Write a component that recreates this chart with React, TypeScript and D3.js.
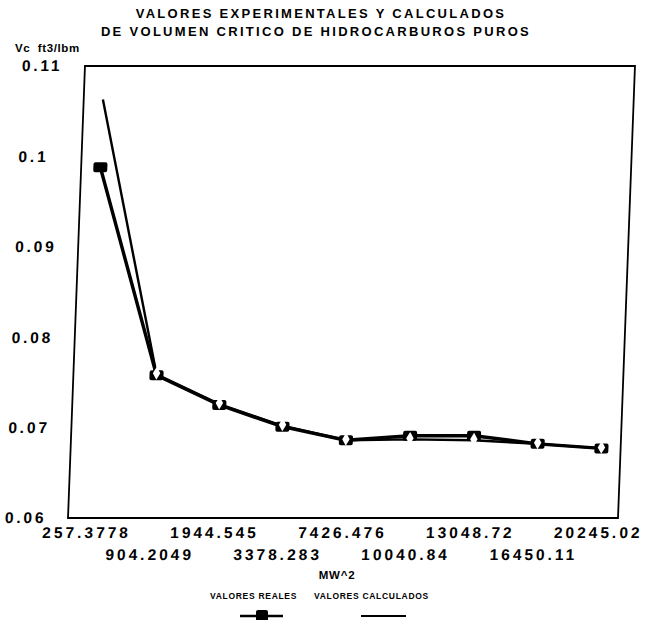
import React from "react";
import * as d3 from "d3";

// MW^2 categories along the x axis
const categories = [
  "257.3778",
  "904.2049",
  "1944.545",
  "3378.283",
  "7426.476",
  "10040.84",
  "13048.72",
  "16450.11",
  "20245.02",
];

// Critical volume, ft3/lbm
const valoresReales = [0.0988, 0.0758, 0.0725, 0.0701, 0.0686, 0.0691, 0.0691, 0.0682, 0.0677];
const valoresCalculados = [0.1063, 0.0759, 0.0726, 0.0702, 0.0686, 0.0687, 0.0686, 0.0682, 0.0677];

const yTicks = [0.06, 0.07, 0.08, 0.09, 0.1, 0.11];

const titleLines = [
  "VALORES EXPERIMENTALES Y CALCULADOS",
  "DE VOLUMEN CRITICO DE HIDROCARBUROS PUROS",
];

const W = 646;
const H = 620;
const plot = { left: 68, right: 618, top: 66, bottom: 518 };
const FONT = "'Liberation Sans', Arial, Helvetica, sans-serif";

export default function App() {
  const x = d3
    .scalePoint<number>()
    .domain(categories.map((_, i) => i))
    .range([plot.left, plot.right])
    .padding(0.3);
  const y = d3.scaleLinear().domain([0.06, 0.11]).range([plot.bottom, plot.top]);

  const line = d3
    .line<number>()
    .x((_, i) => x(i) as number)
    .y((v) => y(v));

  const diamond = d3.symbol(d3.symbolDiamond, 48)();

  // slight lean of the whole plotting area, pivoting on the bottom edge
  const lean = `translate(0,${plot.bottom}) skewX(-2.15) translate(0,${-plot.bottom})`;

  return (
    <svg
      width={W}
      height={H}
      viewBox={`0 0 ${W} ${H}`}
      style={{ position: "absolute", left: 0, top: 0, background: "#fff" }}
      fontFamily={FONT}
    >
      <rect width={W} height={H} fill="#fff" />

      {titleLines.map((t, i) => (
        <text
          key={t}
          x={i === 0 ? 321 : 316}
          y={18 + i * 18}
          textAnchor="middle"
          fontSize={13}
          fontWeight="bold"
          letterSpacing={2.3}
          fill="#000"
        >
          {t}
        </text>
      ))}

      <text x={15} y={52} fontSize={11.5} fontWeight="bold" fill="#000" letterSpacing={0.6}>
        Vc&#160;&#160;ft3/lbm
      </text>

      <g transform={lean}>
        <rect
          x={plot.left}
          y={plot.top}
          width={plot.right - plot.left}
          height={plot.bottom - plot.top}
          fill="none"
          stroke="#000"
          strokeWidth={1.8}
        />

        {yTicks.map((t) => (
          <text
            key={t}
            x={5}
            y={y(t)}
            dy="0.35em"
            fontSize={15.5}
            fontWeight="bold"
            letterSpacing={2.8}
            fill="#000"
          >
            {d3.format("")(t)}
          </text>
        ))}

        {categories.map((c, i) => (
          <text
            key={c}
            x={x(i) as number}
            y={i % 2 === 0 ? 538 : 560}
            textAnchor="middle"
            fontSize={15.5}
            fontWeight="bold"
            letterSpacing={3}
            fill="#000"
          >
            {c}
          </text>
        ))}

        <path d={line(valoresReales) ?? ""} fill="none" stroke="#000" strokeWidth={3.4} strokeLinejoin="round" />
        {valoresReales.map((v, i) => (
          <rect
            key={`r${i}`}
            x={(x(i) as number) - 7}
            y={y(v) - 5}
            width={14}
            height={10}
            rx={2}
            fill="#000"
          />
        ))}

        <path d={line(valoresCalculados) ?? ""} fill="none" stroke="#000" strokeWidth={2.4} strokeLinejoin="round" />
        {valoresCalculados.map((v, i) =>
          i === 0 ? null : (
            <path
              key={`c${i}`}
              d={diamond ?? ""}
              transform={`translate(${x(i)},${y(v) - 1})`}
              fill="#fff"
            />
          )
        )}
      </g>

      <text x={337} y={579} textAnchor="middle" fontSize={11.5} fontWeight="bold" letterSpacing={0.8} fill="#000">
        MW^2
      </text>

      <g fontSize={8.5} fontWeight="bold" fill="#000" letterSpacing={0.7}>
        <text x={210} y={599}>VALORES REALES</text>
        <text x={314} y={599}>VALORES CALCULADOS</text>
      </g>
      <line x1={240} x2={283} y1={616} y2={616} stroke="#000" strokeWidth={2.6} />
      <rect x={256} y={610} width={12} height={12} rx={2} fill="#000" />
      <line x1={361} x2={406} y1={616} y2={616} stroke="#000" strokeWidth={2} />
    </svg>
  );
}
